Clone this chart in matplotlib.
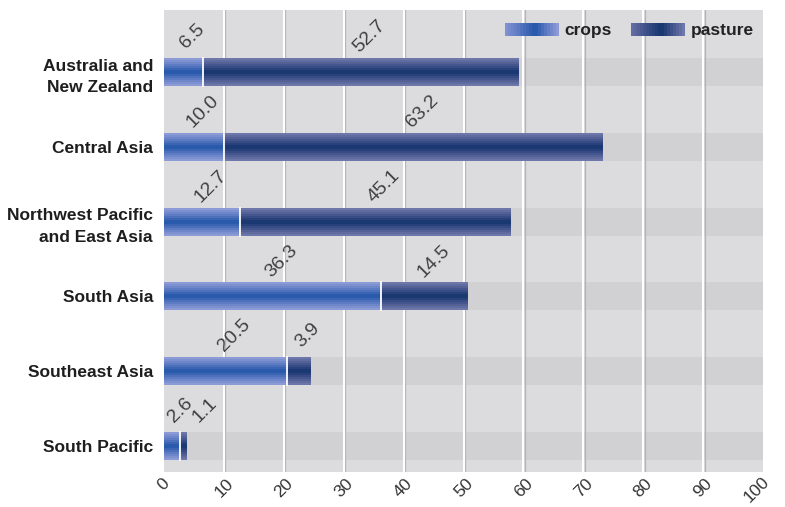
import matplotlib
matplotlib.use("Agg")
import matplotlib.pyplot as plt
import matplotlib.transforms as mtransforms
from matplotlib.colors import LinearSegmentedColormap
import numpy as np

# --- Data ---
regions = ["Australia and\nNew Zealand", "Central Asia", "Northwest Pacific\nand East Asia",
           "South Asia", "Southeast Asia", "South Pacific"]
crops = [6.5, 10.0, 12.7, 36.3, 20.5, 2.6]
pasture = [52.7, 63.2, 45.1, 14.5, 3.9, 1.1]
xticks = [0, 10, 20, 30, 40, 50, 60, 70, 80, 90, 100]

plt.rcParams["font.family"] = ["Liberation Sans", "DejaVu Sans"]

BG = "#dcdcde"
BAND = "#d1d1d3"
crop_cmap = LinearSegmentedColormap.from_list("crop", ["#8c9ad6", "#5f7cc4", "#2a5aab"])
past_cmap = LinearSegmentedColormap.from_list("past", ["#6d77aa", "#46568e", "#1a3872"])

fig = plt.figure(figsize=(7.85, 5.07), dpi=100)
ax = fig.add_axes([0.2089, 0.069, 0.7631, 0.911])
ax.set_facecolor(BG)
for s in ax.spines.values():
    s.set_visible(False)

ypos = np.arange(len(regions))
h = 0.374

# darker band behind each bar row
ax.barh(ypos, 100, height=h, color=BAND, zorder=0.5)

# gridlines: white line with a grey shadow to the right
shadow = mtransforms.offset_copy(ax.transData, fig=fig, x=1.5, y=0, units="dots")
for t in xticks[1:-1]:
    ax.plot([t, t], [-1, 6], color="#b4b4b6", lw=0.9, transform=shadow, zorder=0.8)
    ax.plot([t, t], [-1, 6], color="white", lw=1.5, zorder=0.9)


def banded(n=14):
    # stepped vertical gradient: light at the edges, dark in the middle
    v = 1 - np.abs(np.linspace(-1, 1, n))
    v = np.round(v * 6) / 6
    return v[:, None]


crop_bars = ax.barh(ypos, crops, height=h, color="none", zorder=2)
past_bars = ax.barh(ypos, pasture, left=crops, height=h, color="none", zorder=2)
for bars, cmap in ((crop_bars, crop_cmap), (past_bars, past_cmap)):
    for b in bars:
        x0, y0 = b.get_x(), b.get_y()
        img = ax.imshow(banded(), cmap=cmap, vmin=0, vmax=1, aspect="auto",
                        interpolation="nearest",
                        extent=[x0, x0 + b.get_width(), y0 + b.get_height(), y0], zorder=2)
        img.set_clip_path(b)

# white separator between crops and pasture
for y, c in zip(ypos, crops):
    ax.plot([c, c], [y - h / 2, y + h / 2], color="white", lw=1.3, zorder=3)

# value labels above segments (pasture label pushed right when the bar is short)
for y, c, p in zip(ypos, crops, pasture):
    cx = c / 2
    px = max(c + p / 2, cx + 4.0)
    for x, val in ((cx, c), (px, p)):
        ax.annotate(f"{val:.1f}", xy=(x, y - h / 2), xytext=(6.5, 15.5), textcoords="offset points",
                    rotation=45, ha="center", va="center", fontsize=14, color="#404040")

# legend drawn as gradient swatches in axes coordinates
grad = np.concatenate([np.linspace(0.15, 1, 10), np.linspace(1, 0.0, 8)])[None, :]
for x0, cmap, label in ((0.569, crop_cmap, "crops"), (0.779, past_cmap, "pasture")):
    ax.imshow(grad, cmap=cmap, vmin=0, vmax=1, aspect="auto", interpolation="nearest",
              extent=[x0, x0 + 0.09, 0.944, 0.970], transform=ax.transAxes, zorder=4)
    ax.text(x0 + 0.1, 0.957, label, transform=ax.transAxes, ha="left", va="center",
            fontsize=12.5, fontweight="bold", color="#222222", zorder=4)

ax.set_xlim(0, 100)
ax.set_ylim(5.348, -0.829)
ax.set_yticks(ypos)
ax.set_yticklabels(regions, fontsize=12.5, fontweight="bold", color="#1e1e1e", linespacing=1.55)
ax.set_xticks(xticks)
ax.set_xticklabels([str(t) for t in xticks], rotation=45, fontsize=12.5, color="#333333")
ax.tick_params(axis="both", length=0)
ax.tick_params(axis="y", pad=8)
ax.tick_params(axis="x", pad=3)

# keep the last tick label inside the figure edge
last = ax.get_xticklabels()[-1]
last.set_transform(last.get_transform() + mtransforms.ScaledTranslation(-6 / 100, 2 / 100, fig.dpi_scale_trans))

fig.savefig("out.png", dpi=100)
